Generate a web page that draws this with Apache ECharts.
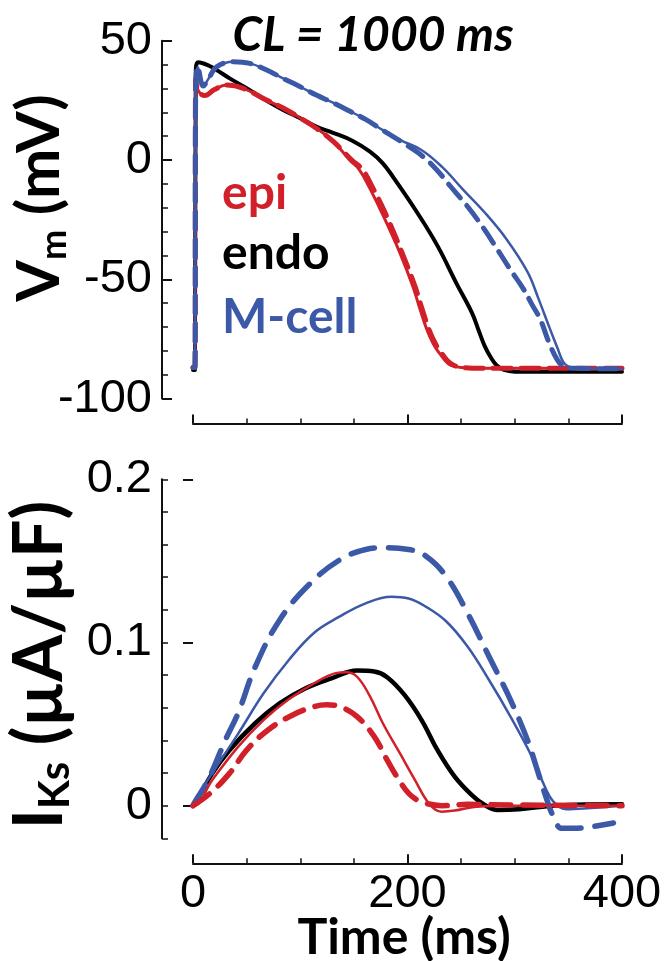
<!DOCTYPE html>
<html><head><meta charset="utf-8">
<script src="https://cdn.jsdelivr.net/npm/echarts@6/dist/echarts.min.js"></script>
<style>html,body{margin:0;padding:0;background:#fff}#c{width:667px;height:961px}</style>
</head><body><div id="c"></div>
<script>
// ---------- data ----------
const timeLabels = [0, 200, 400];
const vmLabels = [-100, -50, 0, 50];
const iksLabels = [0, 0.1, 0.2];

// Top panel: Vm (mV)
const vmEndoT = [0, 1.8, 2.6, 5, 15, 22, 35, 53, 70, 84, 100, 115, 130, 149, 165, 177, 191, 209, 228, 246, 260, 266, 272, 278, 283, 290, 300, 320, 400];
const vmEndoV = [-88, -88, 38, 41, 39.5, 37.7, 34, 29.3, 24.5, 21, 17.5, 14, 11.5, 8, 3.5, -1.4, -10, -22, -36, -52, -64, -71, -78, -83, -86, -88, -88.7, -88.7, -88.7];

const vmEpiT = [0, 1.8, 2.5, 5, 11, 20, 31, 47, 69, 84, 100, 115, 131, 146, 155, 165, 177, 193, 205, 212, 218, 224, 229, 235, 240, 250, 270, 400];
const vmEpiV = [-87, -87, 34, 29, 27, 29.5, 31.4, 30, 25, 21.8, 17.6, 13.3, 7.7, 0, -4, -12, -23, -39, -53, -63, -71, -77, -80.5, -84, -86, -87, -87.3, -87.3];

const vmEpiDashT = [0, 1.8, 2.5, 5, 11, 20, 31, 47, 69, 84, 100, 115, 131, 148, 158, 168, 180, 195, 207, 214, 220, 226, 231, 237, 243, 252, 270, 400];
const vmEpiDashV = [-87, -87, 34, 29, 27, 29.5, 31.4, 30, 25, 21.8, 17.6, 13.3, 7.7, 0, -4, -12, -23, -39, -53, -63, -71, -77, -80.5, -84, -86, -87, -87.3, -87.3];

const vmMT = [0, 1.8, 2.5, 4.5, 9.6, 15, 22, 37.6, 53, 68.7, 84, 100, 115, 131, 146, 161, 177, 193, 213, 232, 252, 272, 292, 312, 322, 333, 340, 345, 350, 360, 400];
const vmMV = [-87, -87, 30, 39, 31, 34.5, 39, 41.2, 40.5, 37.7, 34.2, 30.7, 27.2, 23.9, 20.5, 17, 12.5, 8.4, 4.2, -2.8, -12.5, -22, -33, -47, -58, -71, -79, -84.5, -86.5, -87.3, -87.5];

const vmMDashT = [0, 1.8, 2.5, 4.5, 9.6, 15, 22, 37.6, 53, 68.7, 84, 100, 115, 131, 146, 161, 177, 193, 210, 225, 240, 256, 270, 284, 296, 308, 316, 324, 332, 340, 346, 355, 400];
const vmMDashV = [-87, -87, 30, 39, 31, 34.5, 39, 41.2, 40.5, 37.7, 34.2, 30.7, 27.2, 23.9, 20.5, 17, 12.5, 8, 3, -3, -11, -19.5, -28, -37.6, -46, -54, -60.5, -67, -76.6, -84, -86.5, -87.3, -87.5];

// Bottom panel: IKs (uA/uF)
const iksEndoT = [0, 2, 18, 34, 58, 81, 105, 129, 153, 169, 181, 197, 213, 228, 244, 260, 272, 284, 304, 336, 400];
const iksEndoV = [0, 0.0014, 0.0198, 0.034, 0.0505, 0.0628, 0.072, 0.078, 0.0828, 0.0822, 0.0787, 0.068, 0.0526, 0.034, 0.0178, 0.0065, 0.0004, -0.0027, -0.0022, 0, 0.0008];

const iksEpiT = [0, 1, 18, 42, 66, 89, 113, 133, 143, 153, 165, 177, 193, 207, 220, 232, 244, 264, 300, 400];
const iksEpiV = [0, 0, 0.0157, 0.036, 0.0526, 0.065, 0.075, 0.0812, 0.0818, 0.079, 0.067, 0.0505, 0.032, 0.0157, 0.0014, -0.0037, -0.003, -0.0006, 0, 0];

const iksEpiDashT = [0, 16, 34, 50, 70, 93, 113, 125, 137, 153, 169, 181, 191, 201, 209, 217, 232, 256, 300, 400];
const iksEpiDashV = [0, 0.0076, 0.0198, 0.034, 0.0464, 0.0556, 0.0607, 0.0618, 0.0607, 0.0546, 0.0423, 0.028, 0.0168, 0.0076, 0.0035, 0.0014, 0, 0.0008, 0.0004, 0];

const iksMT = [0, 1, 18, 42, 66, 89, 113, 137, 161, 185, 201, 217, 236, 256, 276, 296, 316, 328, 336, 348, 368, 400];
const iksMV = [0, 0.0025, 0.02, 0.044, 0.069, 0.089, 0.106, 0.116, 0.124, 0.128, 0.127, 0.122, 0.113, 0.0975, 0.077, 0.0546, 0.030, 0.0117, 0.0025, -0.0022, -0.0016, 0];

const iksMDashT = [0, 1, 14, 30, 42, 58, 81, 109, 137, 161, 177, 201, 217, 236, 256, 276, 296, 312, 320, 328, 336, 344, 358, 372, 392];
const iksMDashV = [0, 0.0014, 0.0157, 0.04, 0.0566, 0.085, 0.114, 0.136, 0.1507, 0.157, 0.158, 0.157, 0.153, 0.1405, 0.118, 0.0914, 0.0648, 0.040, 0.024, 0.0076, -0.0067, -0.0139, -0.0138, -0.0129, -0.0106];

// ---------- styling ----------
const RED = '#d2202a', BLUE = '#3c59a8', BLACK = '#000000';
const AX = '#111111';
const tickFont = 'Liberation Sans';

function zip(t, v) { return t.map((x, i) => [x, v[i]]); }
function line(name, g, t, v, color, width, dash) {
  return {
    name, type: 'line', xAxisIndex: g, yAxisIndex: g === 0 ? 0 : 1,
    data: zip(t, v), showSymbol: false, smooth: 0.4,
    lineStyle: { color, width, type: dash ? dash : 'solid', cap: 'round', join: 'round' },
    silent: true, animation: false, z: 3
  };
}

const chart = echarts.init(document.getElementById('c'), null, { renderer: 'canvas' });

const xBase = (g, showLabels) => ({
  type: 'value', gridIndex: g, min: 0, max: 400, interval: 200, offset: 25,
  axisLine: { show: true, onZero: false, lineStyle: { color: AX, width: 2 } },
  axisTick: { show: true, inside: true, length: 9, lineStyle: { color: AX, width: 2 } },
  minorTick: { show: true, splitNumber: 4, length: 5, lineStyle: { color: AX, width: 1.5 } },
  splitLine: { show: false },
  axisLabel: { show: showLabels, fontFamily: tickFont, fontSize: 47, color: '#000', margin: 7,
    customValues: timeLabels }
});

const option = {
  backgroundColor: '#fff',
  animation: false,
  grid: [
    { left: 193, right: 45, top: 40.7, height: 357.9 },
    { left: 193, right: 45, top: 479.3, height: 359 }
  ],
  xAxis: [xBase(0, false), xBase(1, true)],
  yAxis: [
    { type: 'value', gridIndex: 0, min: -100, max: 50, interval: 50, offset: 31,
      axisLine: { show: true, onZero: false, lineStyle: { color: AX, width: 2 } },
      axisTick: { show: true, inside: true, length: 10, lineStyle: { color: AX, width: 2 } },
      minorTick: { show: true, splitNumber: 5, length: 6, lineStyle: { color: AX, width: 1.5 } },
      splitLine: { show: false },
      axisLabel: { fontFamily: tickFont, fontSize: 47, color: '#000', margin: 10, customValues: vmLabels } },
    { type: 'value', gridIndex: 1, min: -0.02, max: 0.2, interval: 0.02, offset: 31,
      axisLine: { show: true, onZero: false, lineStyle: { color: AX, width: 2 } },
      axisTick: { show: true, inside: true, length: 6, lineStyle: { color: AX, width: 1.5 } },
      splitLine: { show: false },
      axisLabel: { fontFamily: tickFont, fontSize: 47, color: '#000', margin: 10, customValues: iksLabels,
        formatter: v => String(Math.round(v * 100) / 100) } },
    { type: 'value', gridIndex: 1, min: -0.02, max: 0.2, interval: 0.02, offset: 31,
      axisLine: { show: false },
      axisTick: { show: true, inside: true, length: 10, customValues: iksLabels, lineStyle: { color: AX, width: 2 } },
      splitLine: { show: false }, axisLabel: { show: false } }
  ],
  series: [
    line('endo', 0, vmEndoT, vmEndoV, BLACK, 4),
    line('epi', 0, vmEpiT, vmEpiV, RED, 3),
    line('epi-dash', 0, vmEpiDashT, vmEpiDashV, RED, 5, [18, 10]),
    line('M', 0, vmMT, vmMV, BLUE, 2.5),
    line('M-dash', 0, vmMDashT, vmMDashV, BLUE, 5, [18, 10]),
    line('endo', 1, iksEndoT, iksEndoV, BLACK, 4.5),
    line('M', 1, iksMT, iksMV, BLUE, 2.5),
    line('M-dash', 1, iksMDashT, iksMDashV, BLUE, 5.5, [24, 14]),
    line('epi', 1, iksEpiT, iksEpiV, RED, 2.5),
    line('epi-dash', 1, iksEpiDashT, iksEpiDashV, RED, 5.5, [20, 12])
  ],
  graphic: [
    { type: 'text', x: 373, y: 36, style: { text: 'CL = 1000 ms', font: 'italic bold 48px Lato', fill: '#000', align: 'center', verticalAlign: 'middle' } },
    { type: 'text', x: 222, y: 194, style: { text: 'epi', font: 'bold 48px Lato', fill: RED, align: 'left', verticalAlign: 'middle' } },
    { type: 'text', x: 222, y: 254, style: { text: 'endo', font: 'bold 48px Lato', fill: BLACK, align: 'left', verticalAlign: 'middle' } },
    { type: 'text', x: 222, y: 318, style: { text: 'M-cell', font: 'bold 48px Lato', fill: BLUE, align: 'left', verticalAlign: 'middle' } },
    { type: 'text', x: 404, y: 938, style: { text: 'Time (ms)', font: 'bold 50px Lato', fill: '#000', align: 'center', verticalAlign: 'middle' } },
    { type: 'text', x: 40, y: 198, rotation: Math.PI / 2,
      style: { text: '{a|V}{b|m}{a| (mV)}', fill: '#000', align: 'center', verticalAlign: 'middle',
        rich: { a: { font: 'bold 60px Lato', lineHeight: 64, verticalAlign: 'middle' },
                b: { font: 'bold 36px Lato', lineHeight: 64, verticalAlign: 'bottom' } } } },
    { type: 'text', x: 40, y: 665, rotation: Math.PI / 2,
      style: { text: '{a|I}{b|Ks}{a| (µA/µF)}', fill: '#000', align: 'center', verticalAlign: 'middle',
        rich: { a: { font: 'bold 68px Lato', lineHeight: 72, verticalAlign: 'middle' },
                b: { font: 'bold 42px Lato', lineHeight: 72, verticalAlign: 'bottom' } } } }
  ]
};
chart.setOption(option);
</script>
</body></html>
